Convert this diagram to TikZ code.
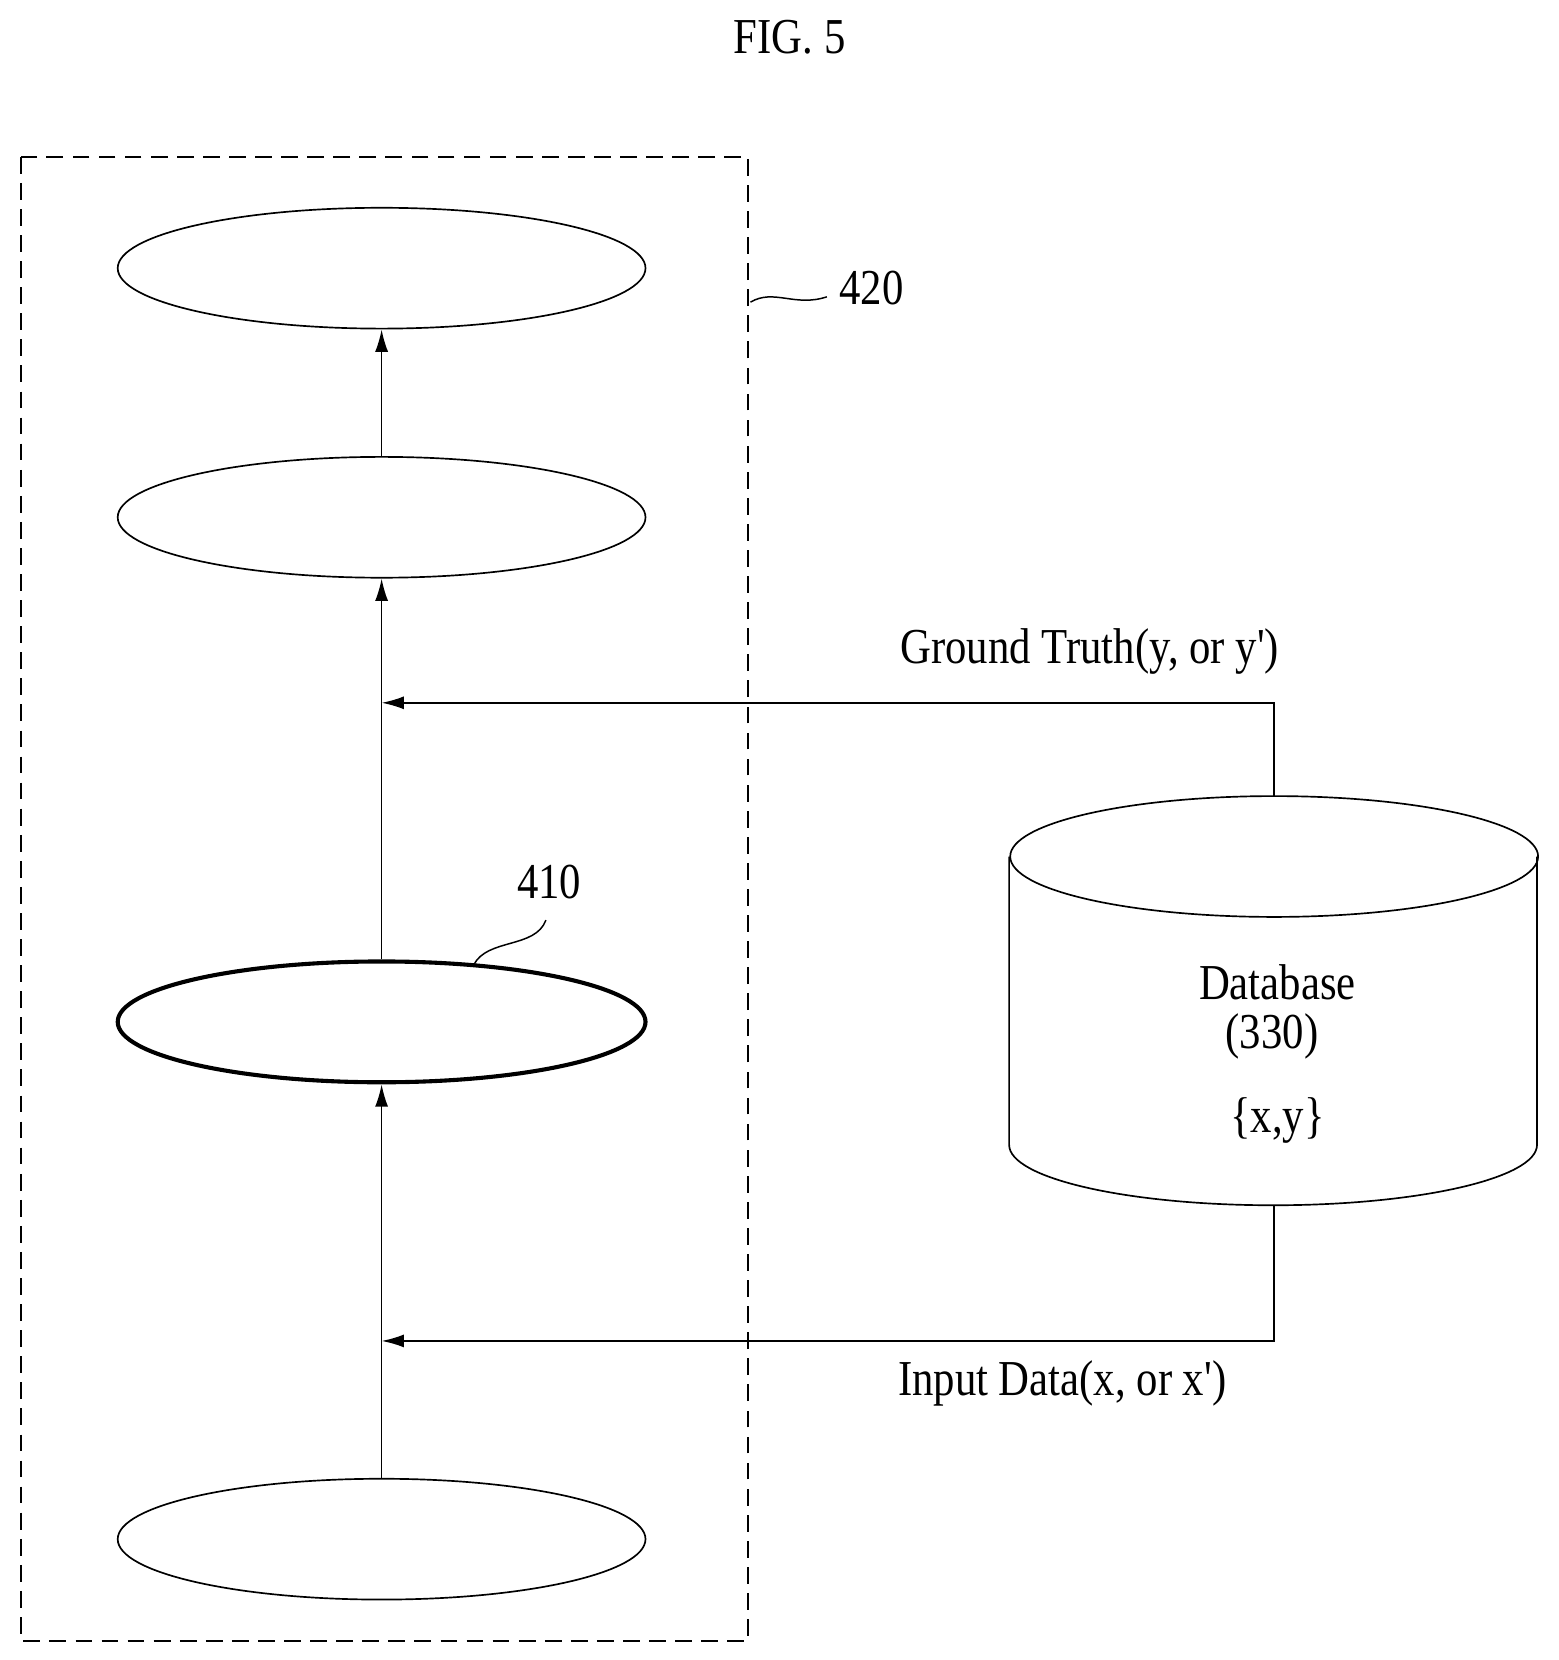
\documentclass[tikz,border=0pt]{standalone}
\usepackage{fontspec}
\setmainfont{Liberation Serif}
\usetikzlibrary{arrows.meta,shapes.geometric}
\begin{document}
\begin{tikzpicture}[x=0.02cm,y=-0.02cm,
  lay/.style={draw,ellipse,minimum width=9.96cm,minimum height=2.28cm,line width=0.9pt},
  arr/.style={-{Latex[length=12pt,width=7pt]},line width=0.9pt},
  lbl/.style={font=\fontsize{27}{32}\selectfont,xscale=0.85}]
\useasboundingbox (0,0) rectangle (1470,1566);
\node[lbl] (fig) at (745,35) {FIG. 5};
\draw[dashed,line width=1pt,dash pattern=on 9pt off 5pt] (20,148) rectangle (706,1548);
\node[lay] (e1) at (360,253) {};
\node[lay] (e2) at (360,488) {};
\node[lay,line width=2.2pt] (e3) at (360,964) {};
\node[lay] (e4) at (360,1452) {};
\draw[arr] (e2.north) -- (e1.south);
\draw[arr] (e3.north) -- (e2.south);
\draw[arr] (e4.north) -- (e3.south);
% cylinder
\draw[line width=0.9pt] (1202,808) ellipse[x radius=249,y radius=57];
\draw[line width=0.9pt] (952,808) -- (952,1080) arc[start angle=180,end angle=0,x radius=249,y radius=57] -- (1450,808);
\coordinate (dbt) at (1202,751);
\coordinate (dbb) at (1202,1137);
\coordinate (gt) at (360,663);
\coordinate (in) at (360,1265);
\draw[arr] (dbt) |- (gt);
\draw[arr] (dbb) |- (in);
\node[lbl] (g) at (1028,615) {Ground Truth(y, or y\textquotesingle)};
\node[lbl] (i) at (1002,1305) {Input Data(x, or x\textquotesingle)};
\node[lbl] (d1) at (1205,927) {Database};
\node[lbl] (d2) at (1200,978) {(330)};
\node[lbl] (d3) at (1205,1057) {\{x,y\}};
\node[lbl] (n420) at (822,272) {420};
\node[lbl] (n410) at (518,832) {410};
\draw[line width=0.8pt] (708,285) .. controls (730,272) and (750,290) .. (780,280);
\draw[line width=0.8pt] (447,910) .. controls (460,885) and (505,895) .. (515,868);
\end{tikzpicture}
\end{document}
